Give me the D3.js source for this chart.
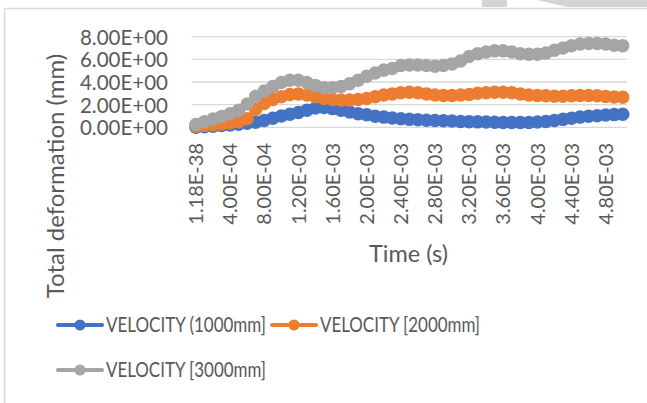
<!DOCTYPE html>
<html>
<head>
<meta charset="utf-8">
<script src="https://cdn.jsdelivr.net/npm/d3@7"></script>
<style>
  html, body { margin: 0; padding: 0; background: #fff; }
  svg { display: block; font-family: Lato, "Open Sans", sans-serif; }
</style>
</head>
<body>
<svg id="chart" width="647" height="403"></svg>
<script>
// Time steps (s)
const times = [
  1.18e-38, 1e-4, 2e-4, 3e-4, 4e-4, 5e-4, 6e-4, 7e-4, 8e-4, 9e-4,
  1.0e-3, 1.1e-3, 1.2e-3, 1.3e-3, 1.4e-3, 1.5e-3, 1.6e-3, 1.7e-3, 1.8e-3, 1.9e-3,
  2.0e-3, 2.1e-3, 2.2e-3, 2.3e-3, 2.4e-3, 2.5e-3, 2.6e-3, 2.7e-3, 2.8e-3, 2.9e-3,
  3.0e-3, 3.1e-3, 3.2e-3, 3.3e-3, 3.4e-3, 3.5e-3, 3.6e-3, 3.7e-3, 3.8e-3, 3.9e-3,
  4.0e-3, 4.1e-3, 4.2e-3, 4.3e-3, 4.4e-3, 4.5e-3, 4.6e-3, 4.7e-3, 4.8e-3, 4.9e-3,
  5.0e-3
];

// Total deformation (mm) for each velocity
const velocity1000 = [
  0.00, 0.05, 0.10, 0.15, 0.20, 0.28, 0.35, 0.45, 0.60, 0.80,
  1.00, 1.15, 1.30, 1.50, 1.70, 1.75, 1.65, 1.50, 1.35, 1.20,
  1.10, 0.98, 0.90, 0.82, 0.75, 0.70, 0.66, 0.62, 0.60, 0.58,
  0.55, 0.52, 0.50, 0.48, 0.46, 0.44, 0.43, 0.42, 0.42, 0.43,
  0.46, 0.52, 0.60, 0.70, 0.80, 0.90, 0.97, 1.03, 1.08, 1.12,
  1.15
];
const velocity2000 = [
  0.10, 0.15, 0.22, 0.30, 0.38, 0.50, 0.75, 1.60, 2.10, 2.45,
  2.70, 2.90, 2.95, 2.85, 2.70, 2.55, 2.45, 2.40, 2.40, 2.45,
  2.55, 2.70, 2.85, 2.95, 3.05, 3.10, 3.05, 2.95, 2.85, 2.80,
  2.80, 2.85, 2.90, 3.00, 3.05, 3.10, 3.10, 3.05, 2.95, 2.85,
  2.80, 2.78, 2.75, 2.75, 2.78, 2.80, 2.80, 2.78, 2.72, 2.68,
  2.65
];
const velocity3000 = [
  0.25, 0.50, 0.73, 0.95, 1.20, 1.50, 2.05, 2.75, 3.20, 3.60,
  3.95, 4.15, 4.15, 3.95, 3.70, 3.50, 3.50, 3.60, 3.85, 4.15,
  4.50, 4.80, 5.05, 5.20, 5.45, 5.50, 5.50, 5.45, 5.40, 5.45,
  5.60, 5.85, 6.25, 6.50, 6.65, 6.75, 6.75, 6.65, 6.50, 6.45,
  6.45, 6.55, 6.80, 7.00, 7.20, 7.35, 7.40, 7.40, 7.35, 7.25,
  7.20
];

const seriesNames = ["VELOCITY (1000mm]", "VELOCITY [2000mm]", "VELOCITY [3000mm]"];
const seriesColors = ["#4472C4", "#ED7D31", "#A5A5A5"];
const yTicks = [0, 2, 4, 6, 8];
const xLabelStep = 4;

const series = [velocity1000, velocity2000, velocity3000].map((values, k) => ({
  name: seriesNames[k],
  color: seriesColors[k],
  values
}));

// Excel-style scientific number format, e.g. 4.00E-04
function sci(v) {
  return v.toExponential(2).toUpperCase().replace(/E([+-])(\d)$/, "E$10$2");
}

const svg = d3.select("#chart");
const textColor = "#595959";
const gridColor = "#d9d9d9";

// Decorative shapes along the top edge and the chart frame
svg.append("polygon").attr("points", "482,0 507,0 507,7 482,7").attr("fill", "#d4d4d4");
svg.append("polygon").attr("points", "537,0 647,0 647,7 567,7").attr("fill", "#d4d4d4");
svg.append("rect")
  .attr("x", 4.5).attr("y", 8.5).attr("width", 660).attr("height", 420)
  .attr("fill", "#fff").attr("stroke", gridColor).attr("stroke-width", 1.5);

const x = d3.scaleBand().domain(d3.range(times.length)).range([191.7, 627]);
const cx = i => x(i) + x.bandwidth() / 2;
const y = d3.scaleLinear().domain([0, 8]).range([127.3, 36.7]);

// Horizontal gridlines
svg.append("g").selectAll("line").data(yTicks).join("line")
  .attr("x1", 191.7).attr("x2", 627)
  .attr("y1", d => y(d)).attr("y2", d => y(d))
  .attr("stroke", gridColor).attr("stroke-width", 1.3);

// Y axis labels
const yAxis = d3.axisLeft(y).tickValues(yTicks).tickFormat(sci).tickSize(0).tickPadding(0);
const yg = svg.append("g").attr("transform", "translate(168,0)").call(yAxis);
yg.select(".domain").remove();
yg.selectAll("text").attr("fill", textColor).attr("font-size", 20.5)
  .attr("font-family", "Lato, sans-serif").attr("dy", "0.36em");

// X axis labels (rotated), one every fourth time step
const xAxis = d3.axisBottom(x)
  .tickValues(d3.range(0, times.length, xLabelStep))
  .tickFormat(i => sci(times[i])).tickSize(0).tickPadding(0);
const xg = svg.append("g").attr("transform", "translate(0,143)").call(xAxis);
xg.select(".domain").remove();
xg.selectAll("text")
  .attr("fill", textColor).attr("font-size", 20).attr("font-family", "Lato, sans-serif")
  .attr("text-anchor", "end").attr("transform", "rotate(-90)")
  .attr("x", 0).attr("y", 0).attr("dy", "0.36em");

// Axis titles
svg.append("text").attr("x", 408.5).attr("y", 262).attr("text-anchor", "middle")
  .attr("fill", textColor).attr("font-size", 23.5).text("Time (s)");
svg.append("text").attr("transform", "translate(55,176) rotate(-90)")
  .attr("text-anchor", "middle").attr("dy", "0.36em")
  .attr("fill", textColor).attr("font-size", 24).text("Total deformation (mm)");

// Series: smoothed lines with round markers
const line = d3.line().x((d, i) => cx(i)).y(d => y(d)).curve(d3.curveCatmullRom.alpha(0.5));
const sg = svg.append("g").selectAll("g").data(series).join("g");
sg.append("path").attr("d", d => line(d.values)).attr("fill", "none")
  .attr("stroke", d => d.color).attr("stroke-width", 3);
sg.each(function (s) {
  d3.select(this).selectAll("circle").data(s.values).join("circle")
    .attr("cx", (d, i) => cx(i)).attr("cy", d => y(d)).attr("r", 6)
    .attr("fill", s.color).attr("stroke", s.color).attr("stroke-width", 1.5);
});

// Legend
const legendPos = [[58, 325], [272, 325], [58, 370]];
const lg = svg.append("g").selectAll("g").data(series).join("g")
  .attr("transform", (d, k) => `translate(${legendPos[k][0]},${legendPos[k][1]})`);
lg.append("line").attr("x1", 0).attr("x2", 44).attr("stroke", d => d.color)
  .attr("stroke-width", 4).attr("stroke-linecap", "round");
lg.append("circle").attr("cx", 22).attr("r", 5.5).attr("fill", d => d.color);
lg.append("text").attr("x", 48).attr("dy", "0.36em").attr("fill", textColor)
  .attr("font-size", 20.5).attr("textLength", 160).attr("lengthAdjust", "spacingAndGlyphs")
  .text(d => d.name);
</script>
</body>
</html>
